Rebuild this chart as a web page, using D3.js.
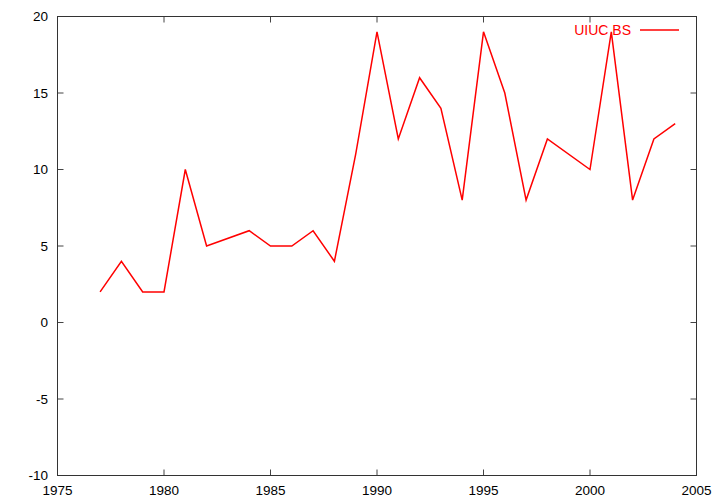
<!DOCTYPE html>
<html><head><meta charset="utf-8">
<script src="https://cdn.jsdelivr.net/npm/d3@7"></script>
<style>body{margin:0;background:#fff}svg{display:block}</style>
</head><body>
<svg id="c" width="720" height="504"></svg>
<script>
const years = [1977,1978,1979,1980,1981,1982,1984,1985,1986,1987,1988,1989,1990,1991,1992,1993,1994,1995,1996,1997,1998,2000,2001,2002,2003,2004];
const values = [2,4,2,2,10,5,6,5,5,6,4,11,19,12,16,14,8,19,15,8,12,10,19,8,12,13];
const xTicks = [1975,1980,1985,1990,1995,2000,2005];
const yTicks = [-10,-5,0,5,10,15,20];
const seriesName = "UIUC BS";

const svg = d3.select("#c");
const L = 57.5, R = 696.5, T = 16.5, B = 475.5;
const x = d3.scaleLinear().domain([1975,2005]).range([L,R]);
const y = d3.scaleLinear().domain([-10,20]).range([B,T]);
const font = "Liberation Sans, Arial, Helvetica, sans-serif";
const fs = 13.5;
const tl = 6;

// ticks (mirrored, inward)
const g = svg.append("g").attr("stroke","#444").attr("stroke-width",1);
xTicks.forEach(v=>{
  g.append("line").attr("x1",x(v)).attr("x2",x(v)).attr("y1",B).attr("y2",B-tl);
  g.append("line").attr("x1",x(v)).attr("x2",x(v)).attr("y1",T).attr("y2",T+tl);
});
yTicks.forEach(v=>{
  g.append("line").attr("x1",L).attr("x2",L+tl).attr("y1",y(v)).attr("y2",y(v));
  g.append("line").attr("x1",R).attr("x2",R-tl).attr("y1",y(v)).attr("y2",y(v));
});
svg.append("rect").attr("x",L).attr("y",T).attr("width",R-L).attr("height",B-T)
  .attr("fill","none").attr("stroke","#333").attr("stroke-width",1);

// labels
svg.append("g").selectAll("text").data(xTicks).join("text")
  .attr("x",d=>x(d)).attr("y",495).attr("text-anchor","middle")
  .attr("font-family",font).attr("font-size",fs).text(d=>d);
svg.append("g").selectAll("text").data(yTicks).join("text")
  .attr("x",48).attr("y",d=>y(d)).attr("dy","0.35em").attr("text-anchor","end")
  .attr("font-family",font).attr("font-size",fs).text(d=>d);

// line
const line = d3.line().x((d,i)=>x(years[i])).y(d=>y(d));
svg.append("path").datum(values).attr("d",line).attr("fill","none")
  .attr("stroke","#ff0000").attr("stroke-width",1.5).attr("stroke-linejoin","miter");

// legend
svg.append("text").attr("x",631).attr("y",30).attr("dy","0.35em").attr("text-anchor","end")
  .attr("font-family",font).attr("font-size",14).attr("fill","#ff0000").text(seriesName);
svg.append("line").attr("x1",640).attr("x2",679).attr("y1",30).attr("y2",30)
  .attr("stroke","#ff0000").attr("stroke-width",1.5);
</script>
</body></html>
